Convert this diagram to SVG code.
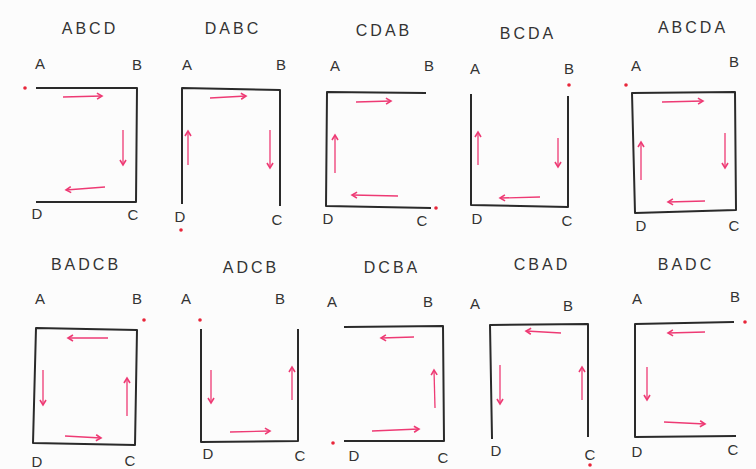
<svg xmlns="http://www.w3.org/2000/svg" width="756" height="469" viewBox="0 0 756 469">
<defs>
<marker id="ah" markerWidth="8" markerHeight="8" refX="6" refY="4" orient="auto" markerUnits="userSpaceOnUse">
<path d="M1,1 L6,4 L1,7" fill="none" stroke="#ee3a74" stroke-width="1.6"/>
</marker>
<style>
.bg{fill:#fcfcfc}
.ln{fill:none;stroke:#2a2a2a;stroke-width:2;stroke-linejoin:round;stroke-linecap:square}
.ar{fill:none;stroke:#ee3a74;stroke-width:1.3;marker-end:url(#ah)}
.dot{fill:#e8263a}
.t{font-family:"Liberation Sans",Arial,sans-serif;font-size:15px;fill:#333;text-anchor:middle}
.ti{font-family:"Liberation Sans",Arial,sans-serif;font-size:16px;fill:#333;text-anchor:middle;letter-spacing:3px}
</style>
</defs>
<rect class="bg" x="0" y="0" width="756" height="469"/>

<g id="p1">
<text class="ti" x="90" y="34">ABCD</text>
<text class="t" x="40" y="69">A</text><text class="t" x="137" y="70">B</text>
<text class="t" x="37" y="219">D</text><text class="t" x="133" y="220">C</text>
<circle class="dot" cx="25" cy="88" r="1.8"/>
</g>
<g id="p2">
<text class="ti" x="233" y="34">DABC</text>
<text class="t" x="187" y="70">A</text><text class="t" x="281" y="70">B</text>
<text class="t" x="180" y="222">D</text><text class="t" x="277" y="225">C</text>
<circle class="dot" cx="181" cy="230" r="1.8"/>
</g>
<g id="p3">
<text class="ti" x="384" y="36">CDAB</text>
<text class="t" x="335" y="71">A</text><text class="t" x="429" y="71">B</text>
<text class="t" x="328" y="224">D</text><text class="t" x="422" y="226">C</text>
<circle class="dot" cx="436" cy="208" r="1.8"/>
</g>
<g id="p4">
<text class="ti" x="528" y="39">BCDA</text>
<text class="t" x="475" y="74">A</text><text class="t" x="569" y="74">B</text>
<text class="t" x="477" y="224">D</text><text class="t" x="567" y="226">C</text>
<circle class="dot" cx="569" cy="85" r="1.8"/>
</g>
<g id="p5">
<text class="ti" x="693" y="33">ABCDA</text>
<text class="t" x="636" y="71">A</text><text class="t" x="734" y="67">B</text>
<text class="t" x="641" y="231">D</text><text class="t" x="734" y="231">C</text>
<circle class="dot" cx="626" cy="85" r="1.8"/>
</g>
<g id="p6">
<text class="ti" x="86" y="270">BADCB</text>
<text class="t" x="40" y="304">A</text><text class="t" x="137" y="304">B</text>
<text class="t" x="37" y="467">D</text><text class="t" x="130" y="466">C</text>
<circle class="dot" cx="144" cy="320" r="1.8"/>
</g>
<g id="p7">
<text class="ti" x="251" y="273">ADCB</text>
<text class="t" x="186" y="304">A</text><text class="t" x="280" y="304">B</text>
<text class="t" x="208" y="459">D</text><text class="t" x="300" y="461">C</text>
<circle class="dot" cx="200" cy="320" r="1.8"/>
</g>
<g id="p8">
<text class="ti" x="392" y="273">DCBA</text>
<text class="t" x="332" y="307">A</text><text class="t" x="428" y="307">B</text>
<text class="t" x="354" y="461">D</text><text class="t" x="443" y="463">C</text>
<circle class="dot" cx="333" cy="443" r="1.8"/>
</g>
<g id="p9">
<text class="ti" x="542" y="270">CBAD</text>
<text class="t" x="475" y="309">A</text><text class="t" x="568" y="311">B</text>
<text class="t" x="496" y="456">D</text><text class="t" x="590" y="460">C</text>
<circle class="dot" cx="590" cy="465" r="1.8"/>
</g>
<g id="p10">
<text class="ti" x="686" y="270">BADC</text>
<text class="t" x="637" y="304">A</text><text class="t" x="735" y="302">B</text>
<text class="t" x="637" y="457">D</text><text class="t" x="733" y="455">C</text>
<circle class="dot" cx="745" cy="322" r="1.8"/>
</g>

<g id="connectors">
<!-- p1 -->
<path class="ln" d="M37,88 L137,88 L136,202 L37,202"/>
<path class="ar" d="M63,97 L102,96"/>
<path class="ar" d="M123,130 L123,165"/>
<path class="ar" d="M105,187 L66,190"/>
<!-- p2 -->
<path class="ln" d="M182,203 L182,88 L280,90 L280,205"/>
<path class="ar" d="M210,98 L246,96"/>
<path class="ar" d="M188,165 L188,131"/>
<path class="ar" d="M270,130 L270,168"/>
<!-- p3 -->
<path class="ln" d="M425,93 L327,92 L326,206 L430,208"/>
<path class="ar" d="M356,102 L391,101"/>
<path class="ar" d="M335,173 L335,135"/>
<path class="ar" d="M398,196 L352,195"/>
<!-- p4 -->
<path class="ln" d="M471,95 L471,205 L568,207 L568,97"/>
<path class="ar" d="M478,165 L478,132"/>
<path class="ar" d="M558,138 L558,167"/>
<path class="ar" d="M540,197 L500,198"/>
<!-- p5 -->
<path class="ln" d="M632,93 L735,92 L736,210 L635,213 Z"/>
<path class="ar" d="M662,102 L703,101"/>
<path class="ar" d="M725,133 L725,168"/>
<path class="ar" d="M705,201 L668,202"/>
<path class="ar" d="M641,180 L641,142"/>
<!-- p6 -->
<path class="ln" d="M36,328 L137,330 L135,445 L33,443 Z"/>
<path class="ar" d="M108,338 L68,338"/>
<path class="ar" d="M43,370 L43,405"/>
<path class="ar" d="M65,436 L101,438"/>
<path class="ar" d="M127,416 L127,378"/>
<!-- p7 -->
<path class="ln" d="M201,330 L201,442 L298,441 L298,330"/>
<path class="ar" d="M211,370 L211,403"/>
<path class="ar" d="M230,432 L270,431"/>
<path class="ar" d="M292,400 L292,367"/>
<!-- p8 -->
<path class="ln" d="M345,327 L443,326 L444,441 L345,441"/>
<path class="ar" d="M414,337 L381,338"/>
<path class="ar" d="M435,408 L434,370"/>
<path class="ar" d="M372,431 L419,429"/>
<!-- p9 -->
<path class="ln" d="M492,438 L490,325 L588,324 L588,436"/>
<path class="ar" d="M561,333 L526,331"/>
<path class="ar" d="M500,365 L500,404"/>
<path class="ar" d="M582,400 L582,367"/>
<!-- p10 -->
<path class="ln" d="M733,322 L635,324 L635,437 L735,436"/>
<path class="ar" d="M705,332 L668,333"/>
<path class="ar" d="M647,367 L647,400"/>
<path class="ar" d="M664,422 L705,424"/>
</g>
</svg>
